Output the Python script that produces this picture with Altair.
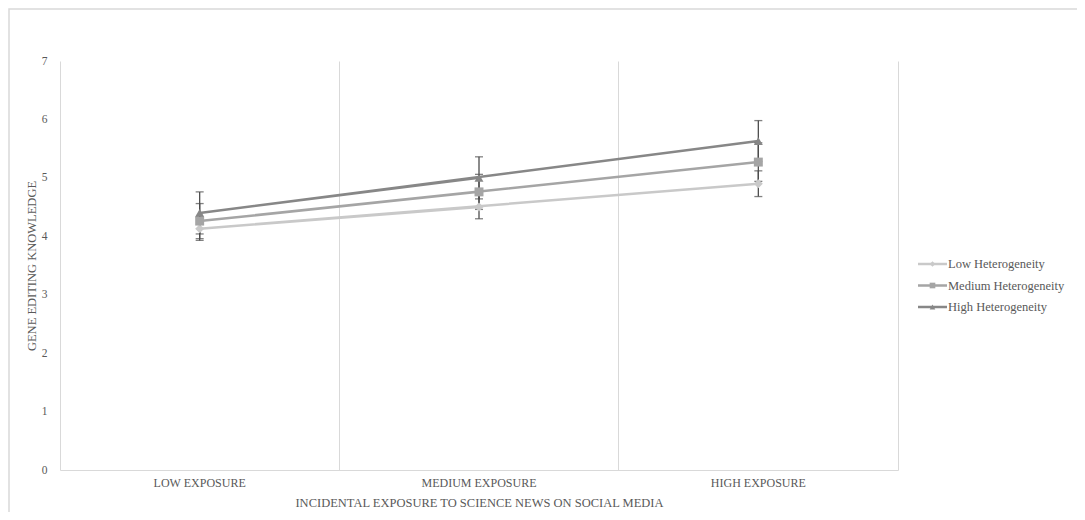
import altair as alt
import pandas as pd

categories = ["LOW EXPOSURE", "MEDIUM EXPOSURE", "HIGH EXPOSURE"]
series = ["Low Heterogeneity", "Medium Heterogeneity", "High Heterogeneity"]
low_vals = [4.13, 4.50, 4.90]
med_vals = [4.26, 4.76, 5.27]
high_vals = [4.40, 5.00, 5.63]
low_err = [0.20, 0.20, 0.22]
med_err = [0.30, 0.30, 0.33]
high_err = [0.36, 0.36, 0.35]

colors = ["#c9c9c9", "#a5a5a5", "#878787"]
point_shapes = ["diamond", "square", "triangle-up"]

rows = []
for s, vals, errs in zip(series, [low_vals, med_vals, high_vals], [low_err, med_err, high_err]):
    for c, v, e in zip(categories, vals, errs):
        rows.append({"exposure": c, "series": s, "value": v, "lo": v - e, "hi": v + e})
df = pd.DataFrame(rows)
legend_df = pd.DataFrame({"series": series})

FONT = "Liberation Serif"
W, H = 838, 409
GRAY_TXT = "#595959"

x_enc = alt.X(
    "exposure:N",
    sort=categories,
    scale=alt.Scale(domain=categories, paddingInner=0, paddingOuter=0),
    axis=alt.Axis(
        title="INCIDENTAL  EXPOSURE TO SCIENCE NEWS ON SOCIAL MEDIA",
        labelAngle=0,
        labelFont=FONT,
        labelFontSize=12,
        labelColor=GRAY_TXT,
        labelPadding=7,
        titleFont=FONT,
        titleFontSize=12.5,
        titleFontWeight="normal",
        titleColor=GRAY_TXT,
        titlePadding=8,
        ticks=False,
        domain=True,
        domainColor="#d9d9d9",
        grid=True,
        gridColor="#d9d9d9",
        bandPosition=1,
    ),
)
y_scale = alt.Scale(domain=[0, 7], nice=False)
y_enc = alt.Y(
    "value:Q",
    scale=y_scale,
    axis=alt.Axis(
        title="GENE EDITING KNOWLEDGE",
        values=[0, 1, 2, 3, 4, 5, 6, 7],
        format="d",
        labelFont=FONT,
        labelFontSize=11.5,
        labelColor=GRAY_TXT,
        labelPadding=13,
        ticks=False,
        grid=False,
        domain=True,
        domainColor="#d9d9d9",
        titleFont=FONT,
        titleFontSize=12.5,
        titleFontWeight="normal",
        titleColor=GRAY_TXT,
        titlePadding=3,
    ),
)

color_scale = alt.Scale(domain=series, range=colors)
shape_scale = alt.Scale(domain=series, range=point_shapes)

base = alt.Chart(df)

lines = base.mark_line(strokeWidth=2.5).encode(
    x=x_enc,
    y=y_enc,
    color=alt.Color("series:N", scale=color_scale, legend=None),
    order=alt.Order("exposure:N"),
)

err_rule = base.mark_rule(color="#4d4d4d", strokeWidth=1.3).encode(
    x=alt.X("exposure:N", sort=categories),
    y="lo:Q",
    y2="hi:Q",
)
err_lo = base.mark_tick(color="#4d4d4d", size=8, thickness=1.3, orient="horizontal").encode(
    x=alt.X("exposure:N", sort=categories), y="lo:Q"
)
err_hi = base.mark_tick(color="#4d4d4d", size=8, thickness=1.3, orient="horizontal").encode(
    x=alt.X("exposure:N", sort=categories), y="hi:Q"
)

points = base.mark_point(filled=True, opacity=1, size=80).encode(
    x=alt.X("exposure:N", sort=categories),
    y="value:Q",
    color=alt.Color("series:N", scale=color_scale, legend=None),
    shape=alt.Shape("series:N", scale=shape_scale, legend=None),
)

frame = alt.Chart(pd.DataFrame({"a": [0]})).mark_rect(
    fill="transparent", stroke="#d9d9d9", strokeWidth=1.5
).encode(
    x=alt.value(-51), x2=alt.value(1018), y=alt.value(-52), y2=alt.value(480)
)

main = alt.layer(frame, lines, err_rule, err_lo, err_hi, points)

# hand-drawn legend (line + marker + label), placed to the right of the plot
leg_y = alt.Y(
    "series:N",
    scale=alt.Scale(type="point", domain=series, range=[203, 246], padding=0),
    axis=None,
)
leg_base = alt.Chart(legend_df)
leg_line = leg_base.mark_rule(strokeWidth=2.5).encode(
    y=leg_y,
    x=alt.value(858),
    x2=alt.value(887),
    color=alt.Color("series:N", scale=color_scale, legend=None),
)
leg_pt = leg_base.mark_point(filled=True, opacity=1, size=32).encode(
    y=leg_y,
    x=alt.value(872.5),
    color=alt.Color("series:N", scale=color_scale, legend=None),
    shape=alt.Shape("series:N", scale=shape_scale, legend=None),
)
leg_txt = leg_base.mark_text(
    align="left", baseline="middle", font=FONT, fontSize=12.5, color=GRAY_TXT
).encode(y=leg_y, x=alt.value(888), text="series:N")

legend_layer = alt.layer(leg_line, leg_pt, leg_txt)

chart = (
    alt.layer(main, legend_layer)
    .resolve_scale(y="independent")
    .properties(
        width=W,
        height=H,
        autosize=alt.AutoSizeParams(type="none"),
        padding={"left": 52, "top": 53, "right": 179, "bottom": 42},
        background="white",
    )
    .configure_view(stroke=None)
)

chart.save("out.html", embed_options={"renderer": "svg", "actions": False})
